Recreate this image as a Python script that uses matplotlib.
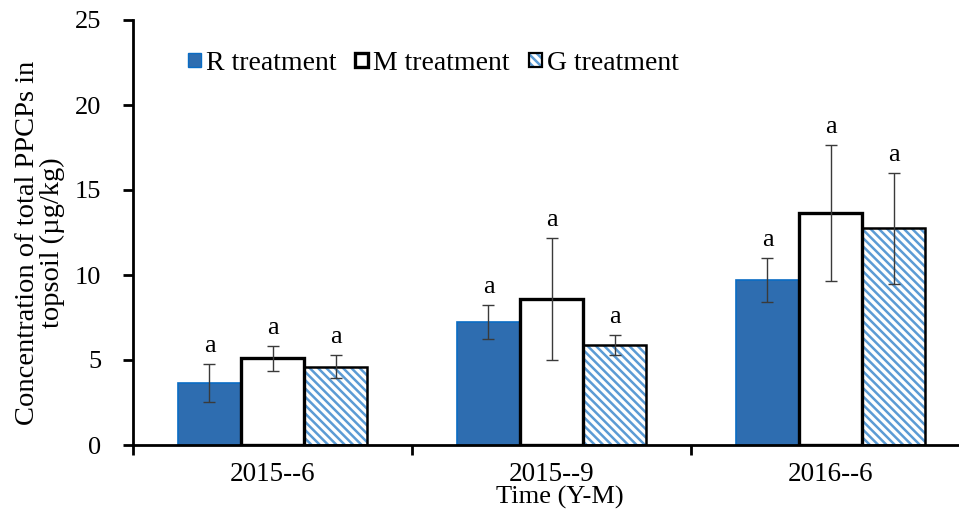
import numpy as np
import matplotlib
matplotlib.use("Agg")
import matplotlib.pyplot as plt
from matplotlib.patches import Patch, Rectangle
from matplotlib.legend_handler import HandlerBase

plt.rcParams['font.family'] = ['Liberation Serif', 'DejaVu Serif']
plt.rcParams['hatch.linewidth'] = 1.8

# Sampling times and treatment means / standard deviations (µg/kg)
categories = ["2015--6", "2015--9", "2016--6"]
r_values = [3.65, 7.25, 9.7]
m_values = [5.1, 8.6, 13.65]
g_values = [4.6, 5.9, 12.75]
r_err = [1.1, 1.0, 1.3]
m_err = [0.72, 3.6, 4.0]
g_err = [0.68, 0.6, 3.25]
sig_letters = [["a", "a", "a"], ["a", "a", "a"], ["a", "a", "a"]]
y_ticks = [0, 5, 10, 15, 20, 25]

BLUE = "#2E6DB0"
BLUE_EDGE = "#0A6CC4"
HATCH_BLUE = "#5B9BD5"
ERR_COLOR = "#3a3a3a"
FS = 19

fig = plt.figure(figsize=(9.59, 5.13), dpi=100)
ax = fig.add_axes([133 / 959, 68 / 513, 837 / 959, 425 / 513])

x = np.arange(len(categories))
w = 0.226

# R treatment: solid blue
ax.bar(x - w, r_values, w, color=BLUE, edgecolor=BLUE_EDGE, linewidth=1.2, zorder=2)
# M treatment: white with heavy black outline
ax.bar(x, m_values, w, color="white", edgecolor="black", linewidth=2.4, zorder=3)
# G treatment: light-blue diagonal hatch with black outline
ax.bar(x + w, g_values, w, color="white", edgecolor=HATCH_BLUE, linewidth=0,
       hatch="\\\\\\\\", zorder=2)
ax.bar(x + w, g_values, w, fill=False, edgecolor="black", linewidth=1.8, zorder=3)

series = ((-w, r_values, r_err), (0, m_values, m_err), (w, g_values, g_err))
for offs, vals, errs in series:
    ax.errorbar(x + offs, vals, yerr=errs, fmt="none", ecolor=ERR_COLOR,
                elinewidth=1.0, capsize=4.5, capthick=1.0, zorder=4)

for i in range(len(categories)):
    for j, (offs, vals, errs) in enumerate(series):
        ax.text(x[i] + offs, vals[i] + errs[i] + 0.4, sig_letters[i][j],
                ha="center", va="bottom", fontsize=FS)

ax.set_xlim(-0.5, 2.5)
ax.set_ylim(0, 25)
ax.set_yticks(y_ticks)
ax.set_xticks(x)
ax.set_xticklabels(categories)
ax.set_xticks(np.arange(-0.5, 3.0, 1.0), minor=True)
ax.tick_params(axis="x", which="major", length=0, pad=12, labelsize=19.5)
ax.tick_params(axis="x", which="minor", length=7, width=2, direction="out")
ax.tick_params(axis="y", which="major", length=7, width=2, direction="out", pad=16, labelsize=FS)

for side in ("top", "right"):
    ax.spines[side].set_visible(False)
for side in ("left", "bottom"):
    ax.spines[side].set_linewidth(2)

fig.text(560 / 959, 1 - 497 / 513, "Time (Y-M)", fontsize=FS, ha="center", va="center")
fig.text(40 / 959, 1 - 243 / 513, "Concentration of total PPCPs in\ntopsoil (µg/kg)",
         fontsize=20.5, rotation=90, ha="center", va="center", multialignment="center",
         linespacing=1.0)


class SquareHandler(HandlerBase):
    def __init__(self, face, edge, lw, hatch=None, hatch_color=None):
        super().__init__()
        self.face, self.edge, self.lw = face, edge, lw
        self.hatch, self.hatch_color = hatch, hatch_color

    def create_artists(self, legend, orig_handle, xdescent, ydescent, width, height, fontsize, trans):
        s = 9.5
        x0 = width - s
        y0 = (height - s) / 2
        arts = []
        if self.hatch:
            arts.append(Rectangle((x0, y0), s, s, facecolor="white", edgecolor=self.hatch_color,
                                  linewidth=0, hatch=self.hatch, transform=trans))
            arts.append(Rectangle((x0, y0), s, s, fill=False, edgecolor=self.edge,
                                  linewidth=self.lw, transform=trans))
        else:
            arts.append(Rectangle((x0, y0), s, s, facecolor=self.face, edgecolor=self.edge,
                                  linewidth=self.lw, transform=trans))
        return arts


h_r, h_m, h_g = Patch(), Patch(), Patch()
ax.legend([h_r, h_m, h_g], ["R treatment", "M treatment", "G treatment"],
          handler_map={h_r: SquareHandler(BLUE, BLUE_EDGE, 1.0),
                       h_m: SquareHandler("white", "black", 2.4),
                       h_g: SquareHandler("white", "black", 1.6, "\\\\\\\\", HATCH_BLUE)},
          ncol=3, frameon=False, fontsize=20, loc="upper left",
          bbox_to_anchor=(43 / 837, 0.955), handlelength=0.5, handletextpad=0.18,
          columnspacing=0.65, borderaxespad=0)

fig.savefig("out.png", dpi=100)
